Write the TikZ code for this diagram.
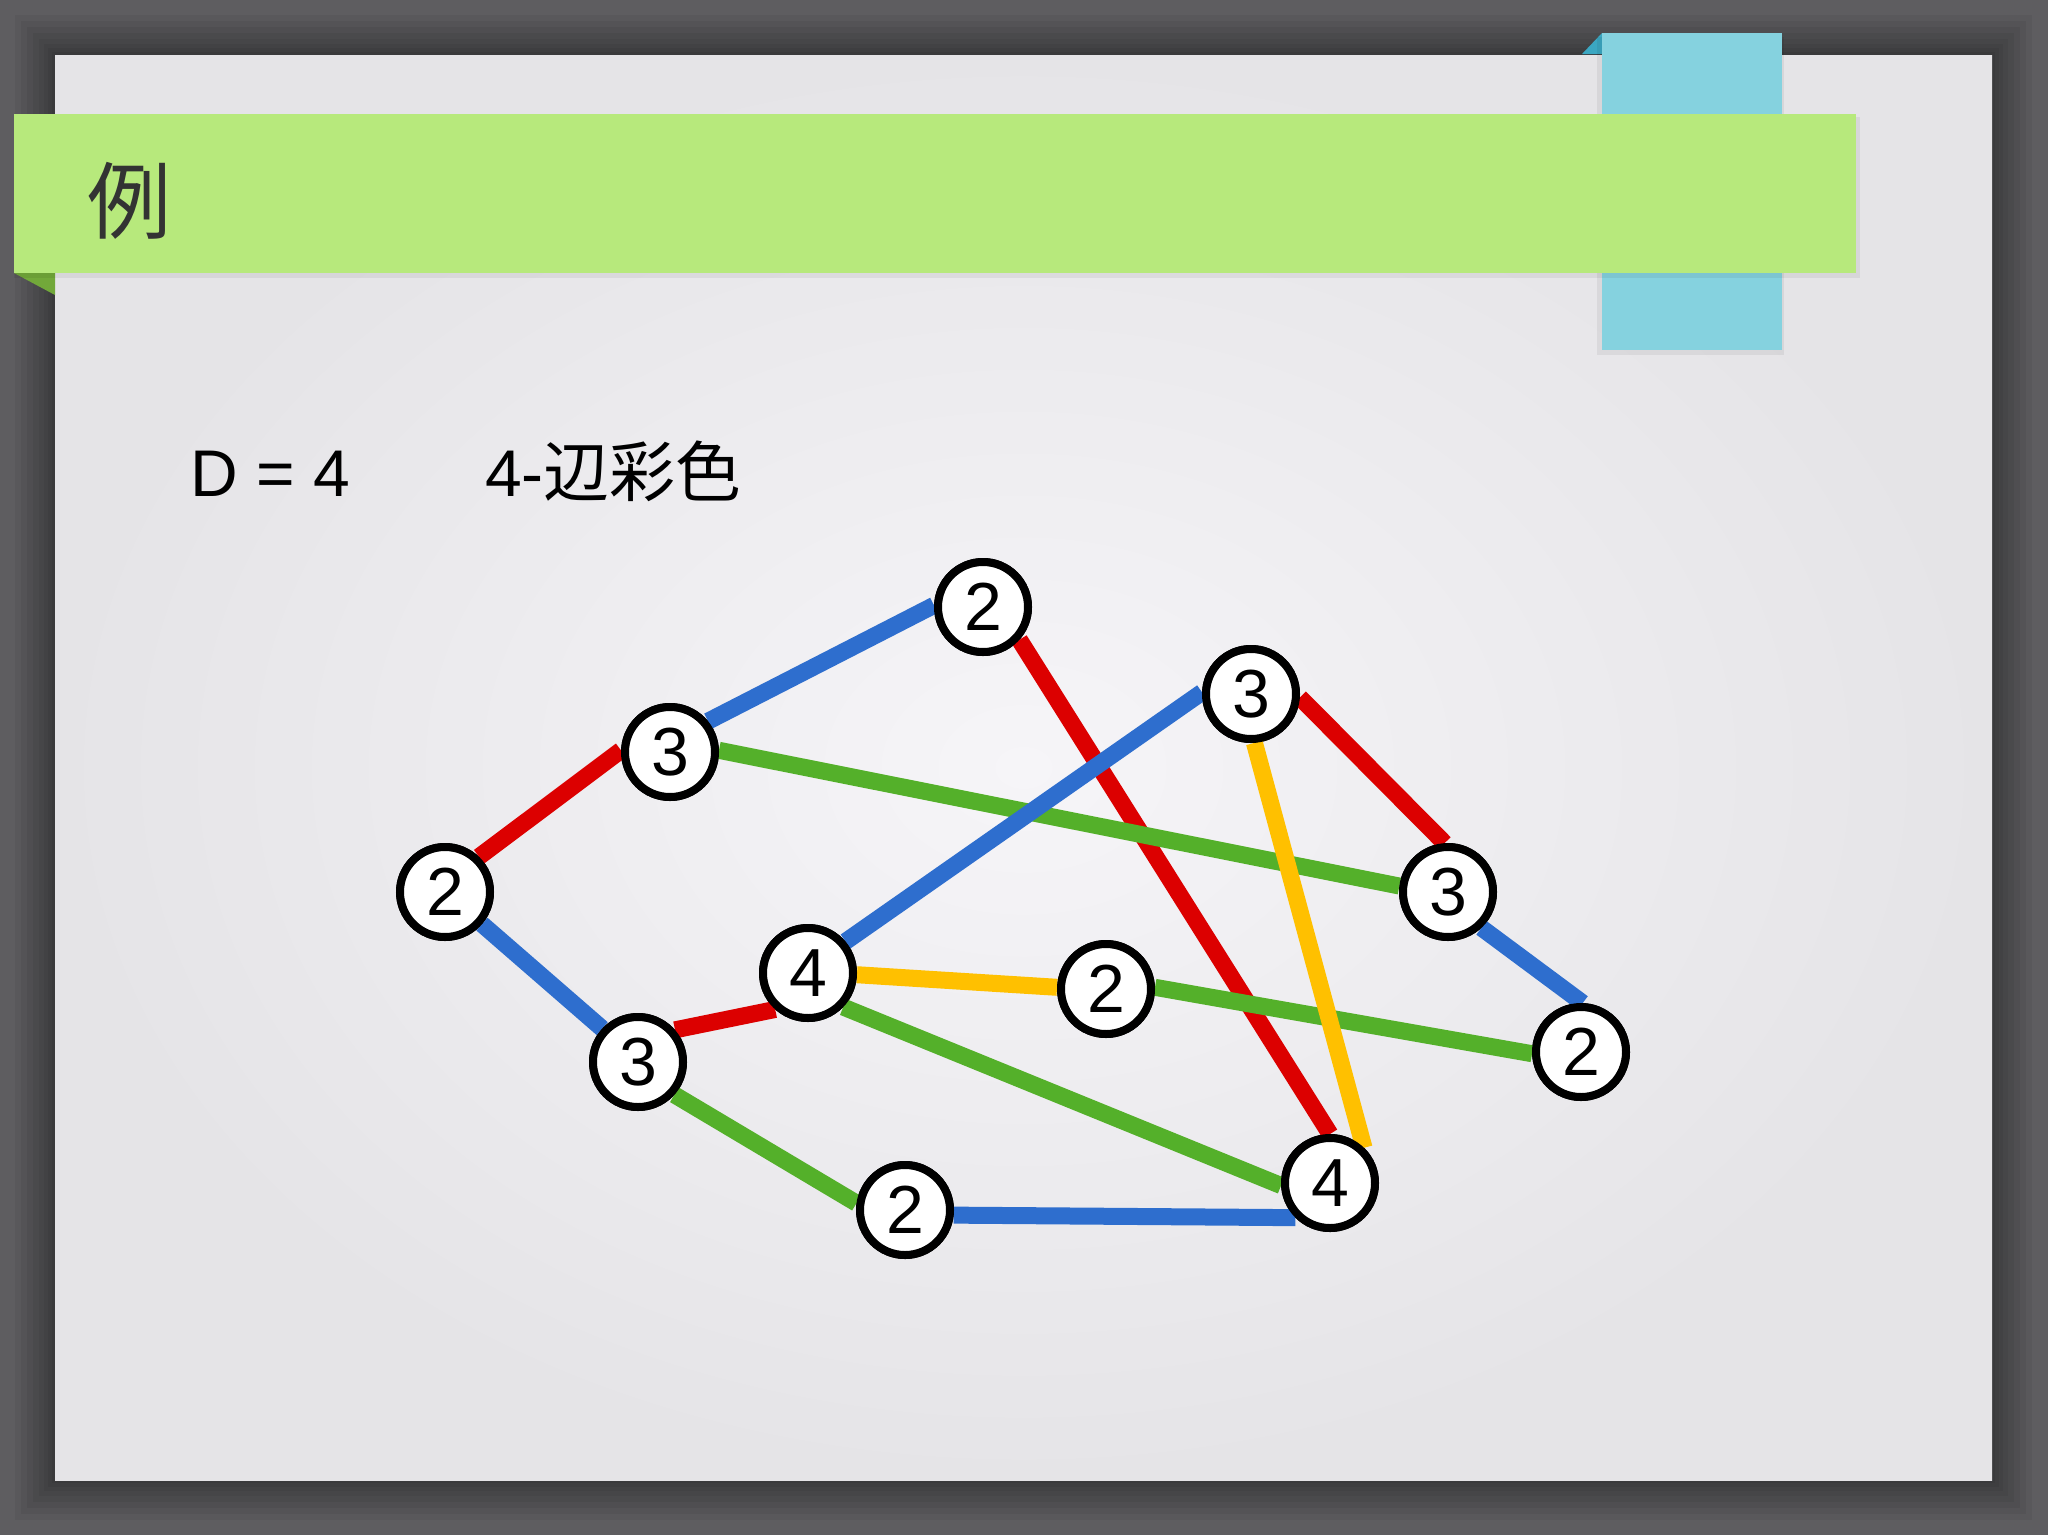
\documentclass[tikz,border=0pt]{standalone}
\usepackage{fontspec}
\setmainfont{Liberation Sans}
\newfontfamily\cjk{Noto Sans CJK JP}
\definecolor{bgdark}{HTML}{5E5D60}
\definecolor{slidein}{HTML}{F6F5F8}
\definecolor{slideout}{HTML}{E5E4E7}
\definecolor{bandgreen}{HTML}{B7E97C}
\definecolor{foldgreen}{HTML}{72A83A}
\definecolor{tabblue}{HTML}{85D2DF}
\definecolor{foldblue}{HTML}{3BA7C2}
\definecolor{eblue}{HTML}{2E6ECE}
\definecolor{ered}{HTML}{DC0000}
\definecolor{egreen}{HTML}{54B02A}
\definecolor{eyellow}{HTML}{FFC000}
\definecolor{titlec}{HTML}{333333}
\begin{document}
\begin{tikzpicture}[x=1pt,y=-1pt,
  vtx/.style={circle, draw=black, line width=8pt, fill=white, minimum size=90pt, inner sep=0pt, font=\fontsize{68}{68}\selectfont},
  gedge/.style={line width=17pt},
  bodytext/.style={anchor=base west, inner sep=0pt, font=\fontsize{66}{66}\selectfont}]
\useasboundingbox (0,0) rectangle (2048,1535);
% background
\fill[bgdark] (0,0) rectangle (2048,1535);
\foreach \e in {40,34,28,22,16,11,7,3}
  \fill[black, opacity=0.05] (55-\e,55-\e) rectangle (1992+\e,1480+\e);
% slide
\shade[inner color=slidein, outer color=slideout] (55,55) rectangle (1992,1480);
% blue tab with fold
\fill[foldblue] (1582,54) -- (1602,33) -- (1602,54) -- cycle;
\fill[black, opacity=0.06] (1597,37) rectangle (1784,355);
\fill[tabblue] (1602,33) rectangle (1782,350);
% green band with fold
\fill[foldgreen] (14,273) -- (55,273) -- (55,295) -- cycle;
\fill[black, opacity=0.06] (14,117) rectangle (1860,278);
\fill[bandgreen] (14,114) rectangle (1856,273);
\node[font=\cjk\fontsize{84}{84}\selectfont, text=titlec, inner sep=0pt] (title) at (129,201) {例};
% texts
\node[bodytext] (dtext) at (190,496) {D = 4};
\node[bodytext] (ctext) at (485,496) {4-{\cjk 辺彩色}};
% vertices (named, for anchors)
\node[vtx] (A) at (983,607) {2};
\node[vtx] (B) at (670,752) {3};
\node[vtx] (C) at (445,892) {2};
\node[vtx] (D) at (638,1062) {3};
\node[vtx] (E) at (808,973) {4};
\node[vtx] (F) at (1106,989) {2};
\node[vtx] (G) at (905,1210) {2};
\node[vtx] (H) at (1330,1183) {4};
\node[vtx] (I) at (1251,694) {3};
\node[vtx] (J) at (1448,892) {3};
\node[vtx] (K) at (1581,1052) {2};
% edges
\draw[gedge, eblue] (B.39) -- (A.178);
\draw[gedge, ered] (A.-42) -- (H.90);
\draw[gedge, ered] (C.46) -- (B.178);
\draw[gedge, egreen] (B.2) -- (J.173);
\draw[gedge, eblue] (C.-41) -- (D.137);
\draw[gedge, ered] (D.41) -- (E.-132);
\draw[gedge, egreen] (D.-42) -- (G.172);
\draw[gedge, eblue] (E.40) -- (I.178);
\draw[gedge, eyellow] (E.-2) -- (F.178);
\draw[gedge, egreen] (E.-44) -- (H.183);
\draw[gedge, egreen] (F.2) -- (K.182);
\draw[gedge, eblue] (G.-6) -- (H.-135);
\draw[gedge, ered] (I.-4) -- (J.94);
\draw[gedge, eyellow] (I.-86) -- (H.46);
\draw[gedge, eblue] (J.-47) -- (K.88);
% redraw vertices on top of the edges
\foreach \n in {A,B,C,D,E,F,G,H,I,J,K}
  \draw[black, line width=8pt, fill=white] (\n) circle (45);
\foreach \n/\t in {A/2,B/3,C/2,D/3,E/4,F/2,G/2,H/4,I/3,J/3,K/2}
  \node[inner sep=0pt, font=\fontsize{68}{68}\selectfont] at (\n) {\t};
\end{tikzpicture}
\end{document}
